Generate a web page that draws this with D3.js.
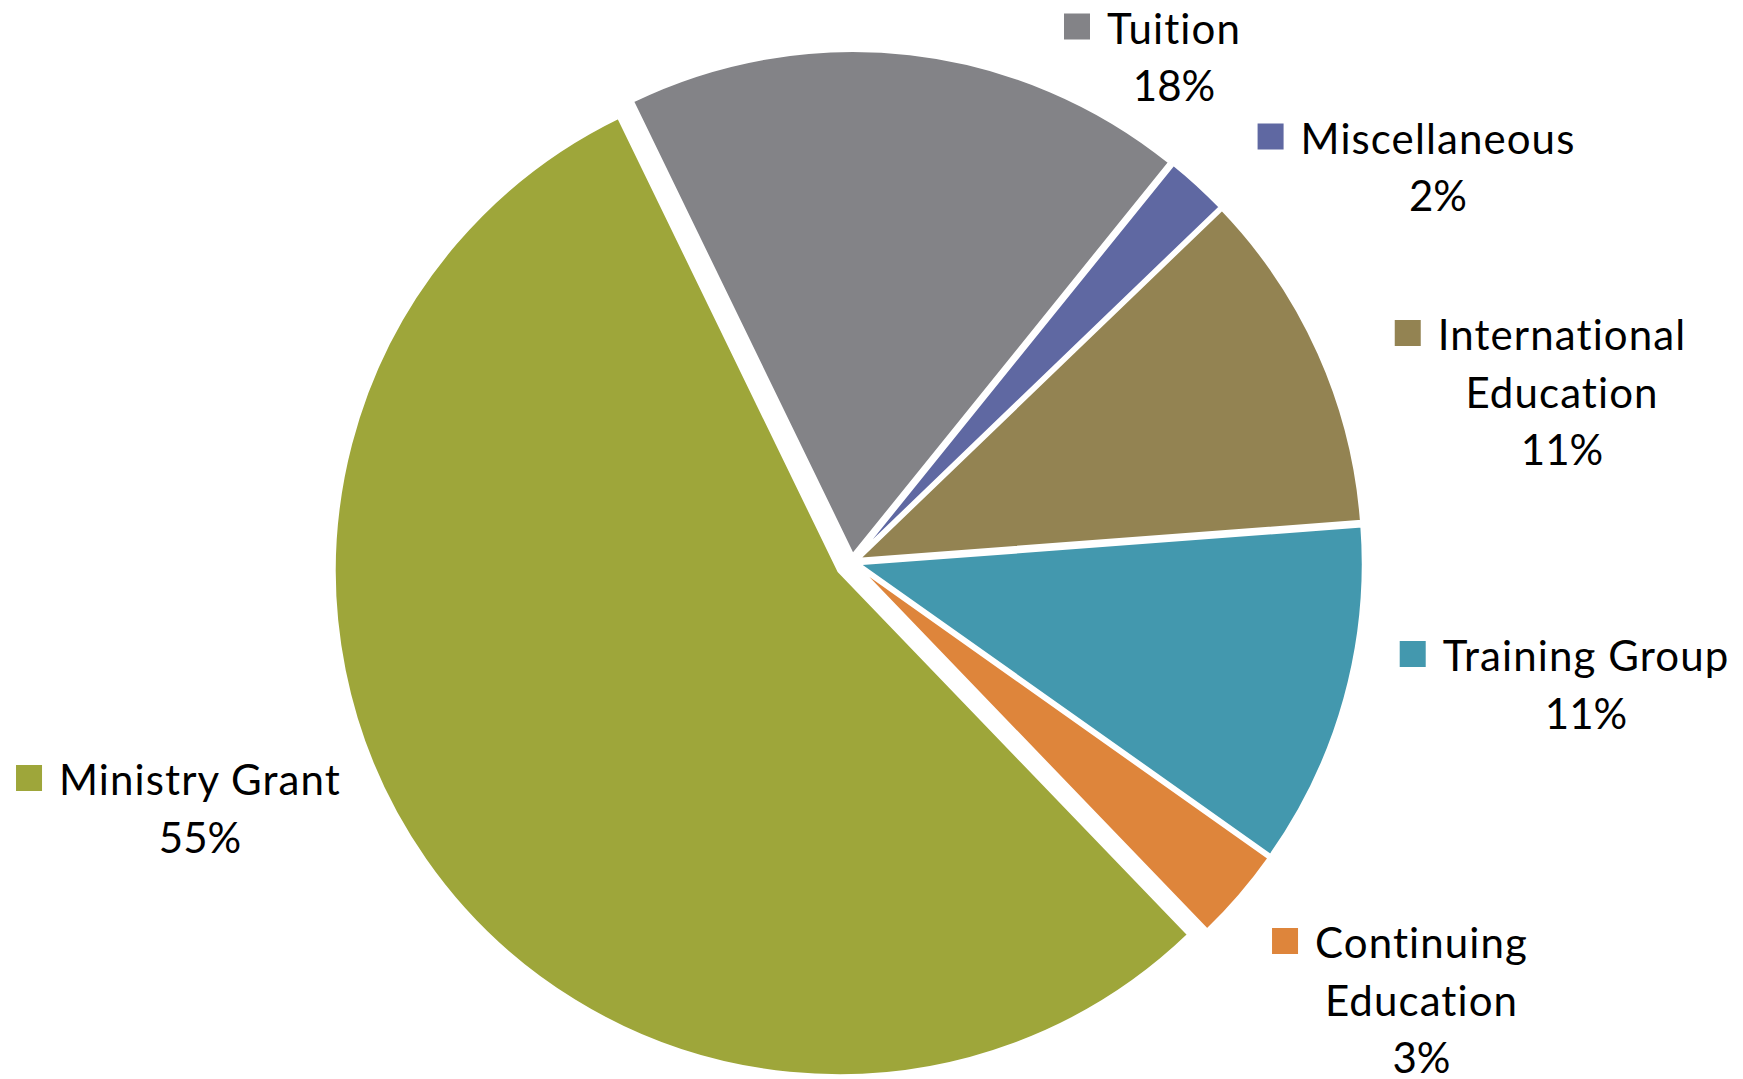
<!DOCTYPE html>
<html>
<head>
<meta charset="utf-8">
<script src="https://cdn.jsdelivr.net/npm/d3@7"></script>
<style>
  html, body { margin: 0; padding: 0; background: #ffffff; }
  svg { display: block; }
</style>
</head>
<body>
<svg id="chart" width="1743" height="1079"></svg>
<script>
// Revenue sources, share of total (%)
const categories = ["Tuition", "Miscellaneous", "International Education", "Training Group", "Continuing Education", "Ministry Grant"];
const shares = [18, 2, 11, 11, 3, 55];
const labelLines = [["Tuition"], ["Miscellaneous"], ["International", "Education"], ["Training Group"], ["Continuing", "Education"], ["Ministry Grant"]];

// Styling
const sliceColors = ["#838387", "#5f68a2", "#938352", "#4398ae", "#de853b", "#9ea63a"];
const W = 1743, H = 1079;
const center = { x: 852, y: 562 };
const radius = 504.5;
const startDeg = -25.9;
const explodeBy = [7, 7, 7, 7, 7, 16];
const fontSize = 42, lineHeight = 57.5, nameSpacing = 1.1;

// Label anchors: centre of text block, baseline of first line
const labelAnchors = [
  { x: 1174, y: 43.5 },
  { x: 1438, y: 153.5 },
  { x: 1562, y: 350 },
  { x: 1586, y: 671 },
  { x: 1421.5, y: 958 },
  { x: 200, y: 795 }
];

const svg = d3.select("#chart");
const fmtPct = d3.format(".0%");
const total = d3.sum(shares);

const start = startDeg * Math.PI / 180;
const pie = d3.pie().sort(null).value(d => d).startAngle(start).endAngle(start + 2 * Math.PI);
const arc = d3.arc().innerRadius(0).outerRadius(radius);
const arcs = pie(shares);

const g = svg.append("g").attr("transform", `translate(${center.x},${center.y})`);

g.selectAll("path.slice")
  .data(arcs)
  .join("path")
  .attr("class", "slice")
  .attr("d", arc)
  .attr("fill", (d, i) => sliceColors[i])
  .attr("stroke", "#ffffff")
  .attr("stroke-width", 3)
  .attr("stroke-linejoin", "miter")
  .attr("transform", (d, i) => {
    const mid = (d.startAngle + d.endAngle) / 2;
    const e = explodeBy[i];
    return `translate(${e * Math.sin(mid)},${-e * Math.cos(mid)})`;
  });

// Data labels: category name lines, percentage, legend key before first line
const labels = svg.selectAll("g.label")
  .data(arcs)
  .join("g")
  .attr("class", "label")
  .attr("transform", (d, i) => `translate(${labelAnchors[i].x},${labelAnchors[i].y})`);

labels.each(function (d, i) {
  const lg = d3.select(this);
  const names = labelLines[i];
  const lines = names.concat([fmtPct(d.data / total)]);
  const texts = lg.selectAll("text")
    .data(lines)
    .join("text")
    .attr("x", 0)
    .attr("y", (t, k) => k * lineHeight)
    .attr("text-anchor", "middle")
    .attr("font-family", "Lato, 'Open Sans', sans-serif")
    .attr("font-size", fontSize)
    .attr("letter-spacing", (t, k) => k < names.length ? nameSpacing : 0)
    .attr("fill", "#000000")
    .text(t => t);
  const firstW = texts.node().getComputedTextLength();
  const key = 26;
  lg.insert("rect", "text")
    .attr("x", -firstW / 2 - 17 - key)
    .attr("y", -30)
    .attr("width", key)
    .attr("height", key)
    .attr("fill", sliceColors[i]);
});
</script>
</body>
</html>
